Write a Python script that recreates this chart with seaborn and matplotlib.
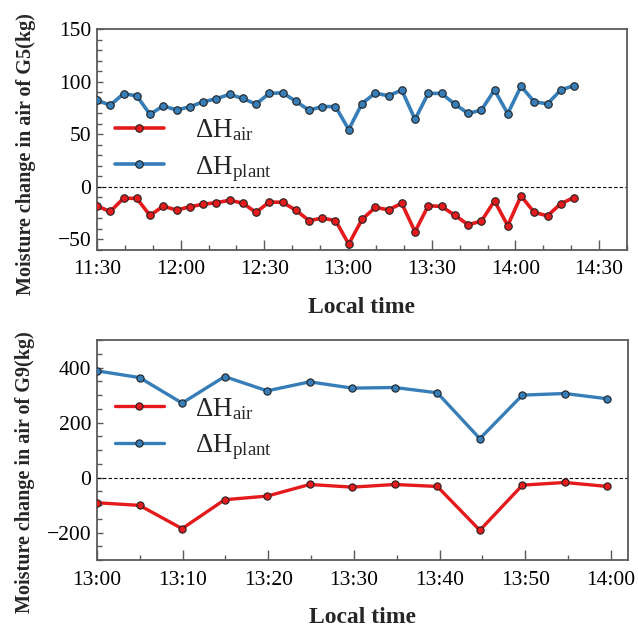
import matplotlib
matplotlib.use("Agg")
import numpy as np
import pandas as pd
import seaborn as sns
import matplotlib.pyplot as plt
import matplotlib.dates as mdates
from matplotlib.ticker import MultipleLocator

# ---------------- data ----------------
g5_times = ["11:30:00", "11:34:45", "11:39:30", "11:44:15", "11:49:00", "11:53:45",
            "11:58:30", "12:03:15", "12:08:00", "12:12:45", "12:17:30", "12:22:15",
            "12:27:00", "12:31:45", "12:36:30", "12:41:15", "12:46:00", "12:50:45",
            "12:55:30", "13:00:15", "13:05:00", "13:09:45", "13:14:30", "13:19:15",
            "13:24:00", "13:28:45", "13:33:30", "13:38:15", "13:43:00", "13:47:45",
            "13:52:30", "13:57:15", "14:02:00", "14:06:45", "14:11:30", "14:16:15",
            "14:21:00"]
g5_air = [-18.3, -23.4, -10.9, -10.9, -27.2, -18.3, -22.1, -18.9, -16.6, -15.0,
          -12.8, -15.4, -24.3, -14.4, -14.7, -22.1, -32.0, -29.8, -32.0, -54.4,
          -31.0, -19.5, -21.8, -15.7, -42.6, -17.9, -18.6, -26.9, -35.9, -32.7,
          -13.4, -36.8, -8.6, -24.3, -27.5, -16.0, -10.2]
g5_plant = [82.4, 77.6, 88.5, 86.5, 68.9, 76.9, 73.1, 76.0, 80.8, 83.7,
            87.8, 84.0, 78.6, 88.8, 89.4, 81.4, 72.8, 76.3, 76.3, 54.5,
            79.2, 89.1, 86.5, 92.0, 64.1, 88.8, 88.8, 78.6, 69.9, 72.8,
            92.0, 69.6, 95.6, 80.8, 78.9, 92.0, 96.2]

g9_times = ["13:00:00", "13:04:58", "13:09:56", "13:14:54", "13:19:52", "13:24:50",
            "13:29:48", "13:34:46", "13:39:44", "13:44:42", "13:49:40", "13:54:38",
            "13:59:36"]
g9_air = [-91.8, -101.4, -186.0, -80.9, -67.6, -25.4, -35.0, -25.4, -32.6, -192.0,
          -27.8, -18.1, -32.6]
g9_plant = [387.7, 363.4, 270.6, 367.0, 315.2, 347.8, 325.0, 327.2, 308.0, 141.3,
            299.6, 305.4, 286.2]

air_label = r"ΔH$_{\mathrm{air}}$"
plant_label = r"ΔH$_{\mathrm{plant}}$"
xlabel = "Local time"
g5_ylabel = "Moisture change in air of G5(kg)"
g9_ylabel = "Moisture change in air of G9(kg)"

RED = "#E41A1C"
BLUE = "#377EB8"
SPINE = "#5a5a5a"

# ---------------- style ----------------
sns.set_theme(style="white")
plt.rcParams["font.family"] = ["Liberation Serif", "DejaVu Serif"]
plt.rcParams["mathtext.fontset"] = "custom"
plt.rcParams["mathtext.rm"] = "Liberation Serif"
plt.rcParams["mathtext.it"] = "Liberation Serif:italic"
plt.rcParams["mathtext.bf"] = "Liberation Serif:bold"
plt.rcParams["axes.unicode_minus"] = True

day = "2020-01-01 "
df5 = pd.DataFrame({"t": pd.to_datetime([day + t for t in g5_times]),
                    "air": g5_air, "plant": g5_plant})
df9 = pd.DataFrame({"t": pd.to_datetime([day + t for t in g9_times]),
                    "air": g9_air, "plant": g9_plant})

fig = plt.figure(figsize=(6.38, 6.28), dpi=100)
ax1 = fig.add_axes([97 / 638, 1 - 250 / 628, 530 / 638, 221 / 628])
ax2 = fig.add_axes([97 / 638, 1 - 560 / 628, 531 / 638, 220 / 628])


def draw(ax, df, lw, ms):
    ax.axhline(0, color="black", lw=0.8, ls=(0, (3, 2)), zorder=1)
    sns.lineplot(data=df, x="t", y="air", ax=ax, color=RED, lw=lw, marker="o",
                 ms=ms, mec="#222222", mew=0.8, label=air_label, zorder=3)
    sns.lineplot(data=df, x="t", y="plant", ax=ax, color=BLUE, lw=lw, marker="o",
                 ms=ms, mec="#222222", mew=0.8, label=plant_label, zorder=3)


draw(ax1, df5, 2.6, 5.4)
draw(ax2, df9, 2.4, 5.2)

# top axes
ax1.set_xlim(pd.Timestamp(day + "11:30"), pd.Timestamp(day + "14:40"))
ax1.set_ylim(-60, 150)
ax1.xaxis.set_major_locator(mdates.MinuteLocator(byminute=[0, 30]))
ax1.xaxis.set_minor_locator(mdates.MinuteLocator(byminute=[0, 10, 20, 30, 40, 50]))
ax1.xaxis.set_major_formatter(mdates.DateFormatter("%H:%M"))
ax1.yaxis.set_major_locator(MultipleLocator(50))
ax1.yaxis.set_minor_locator(MultipleLocator(10))

# bottom axes
ax2.set_xlim(pd.Timestamp(day + "13:00"), pd.Timestamp(day + "14:02"))
ax2.set_ylim(-300, 500)
ax2.xaxis.set_major_locator(mdates.MinuteLocator(byminute=range(0, 60, 10)))
ax2.xaxis.set_minor_locator(mdates.MinuteLocator(byminute=range(0, 60, 5)))
ax2.xaxis.set_major_formatter(mdates.DateFormatter("%H:%M"))
ax2.yaxis.set_major_locator(MultipleLocator(200))
ax2.yaxis.set_minor_locator(MultipleLocator(50))
ax2.set_yticks([-200, 0, 200, 400])

for ax, ylab, ly, legy, xpad, xlp in [(ax1, g5_ylabel, 0.434, 0.45, 7, 13),
                                      (ax2, g9_ylabel, 0.40, 0.595, 8, 12)]:
    for s in ax.spines.values():
        s.set_color(SPINE)
        s.set_linewidth(1.3)
    ax.tick_params(axis="both", which="both", direction="in", color=SPINE,
                   labelcolor="black", labelsize=15.5, width=1.0,
                   bottom=True, left=True, top=False, right=False)
    ax.tick_params(axis="x", which="major", length=7, pad=xpad)
    ax.tick_params(axis="x", which="minor", length=3.5)
    ax.tick_params(axis="y", which="major", length=4.5, pad=4)
    ax.tick_params(axis="y", which="minor", length=3.5)
    ax.set_xlabel(xlabel, fontsize=17, fontweight="bold", labelpad=xlp)
    ax.set_ylabel(ylab, fontsize=14.5, fontweight="bold")
    ax.yaxis.set_label_coords(-0.116, ly)
    ax.legend(loc="center left", bbox_to_anchor=(0.034, legy), frameon=False,
              fontsize=19.5, handlelength=1.8, handletextpad=1.15, labelspacing=0.4,
              borderpad=0, borderaxespad=0)
    ax.grid(False)

fig.savefig("out.png", dpi=100)
